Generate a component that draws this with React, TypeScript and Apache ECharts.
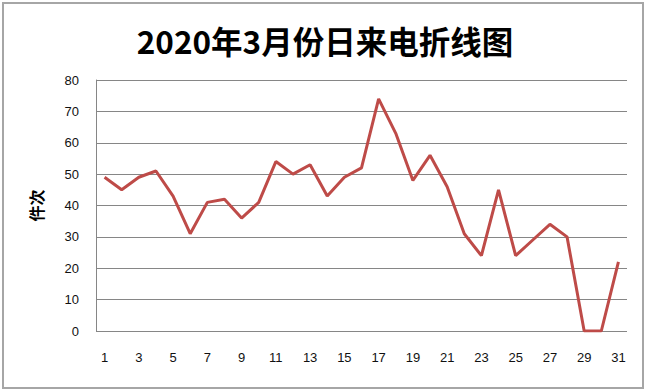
import React, { useEffect, useRef } from "react";
import * as echarts from "echarts";

const TITLE = "2020年3月份日来电折线图";
const Y_NAME = "件次";
const days: string[] = Array.from({ length: 31 }, (_, i) => String(i + 1));
const calls: number[] = [
  49, 45, 49, 51, 43, 31, 41, 42, 36, 41,
  54, 50, 53, 43, 49, 52, 74, 63, 48, 56,
  46, 31, 24, 45, 24, 29, 34, 30, 0, 0, 22,
];
const Y_MIN = 0;
const Y_MAX = 80;
const Y_STEP = 10;

export default function App() {
  const ref = useRef<HTMLDivElement>(null);
  useEffect(() => {
    document.body.style.margin = "0";
    if (!ref.current) return;
    const chart = echarts.init(ref.current, null, { renderer: "svg" });
    chart.setOption({
      animation: false,
      backgroundColor: "#ffffff",
      title: {
        text: TITLE,
        left: "center",
        top: 19,
        textStyle: {
          fontFamily: "Noto Sans CJK SC",
          fontWeight: "bold",
          fontSize: 31.5,
          color: "#000",
        },
      },
      graphic: [
        {
          type: "rect",
          shape: { x: 3, y: 3, width: 640, height: 385 },
          style: { fill: "none", stroke: "#a6a6a6", lineWidth: 2 },
          silent: true,
        },
      ],
      grid: { left: 96, right: 23, top: 80, bottom: 59 },
      xAxis: {
        type: "category",
        data: days,
        boundaryGap: true,
        axisLine: { show: false },
        axisTick: { show: false },
        axisLabel: {
          interval: 1,
          margin: 20,
          fontSize: 13,
          color: "#111",
          fontFamily: "Liberation Sans",
        },
      },
      yAxis: {
        type: "value",
        min: Y_MIN,
        max: Y_MAX,
        interval: Y_STEP,
        name: Y_NAME,
        nameLocation: "middle",
        nameRotate: 90,
        nameGap: 52,
        nameTextStyle: {
          fontFamily: "Noto Sans CJK SC",
          fontWeight: "bold",
          fontSize: 16,
          color: "#000",
        },
        axisLine: { show: true, lineStyle: { color: "#868686", width: 1 } },
        axisTick: { show: false },
        axisLabel: {
          margin: 17,
          fontSize: 13,
          color: "#111",
          fontFamily: "Liberation Sans",
        },
        splitLine: { show: true, lineStyle: { color: "#868686", width: 1 } },
      },
      series: [
        {
          type: "line",
          data: calls,
          symbol: "none",
          lineStyle: { color: "#be4b48", width: 3 },
          itemStyle: { color: "#be4b48" },
        },
      ],
    });
    return () => chart.dispose();
  }, []);
  return <div ref={ref} style={{ width: 650, height: 390 }} />;
}
